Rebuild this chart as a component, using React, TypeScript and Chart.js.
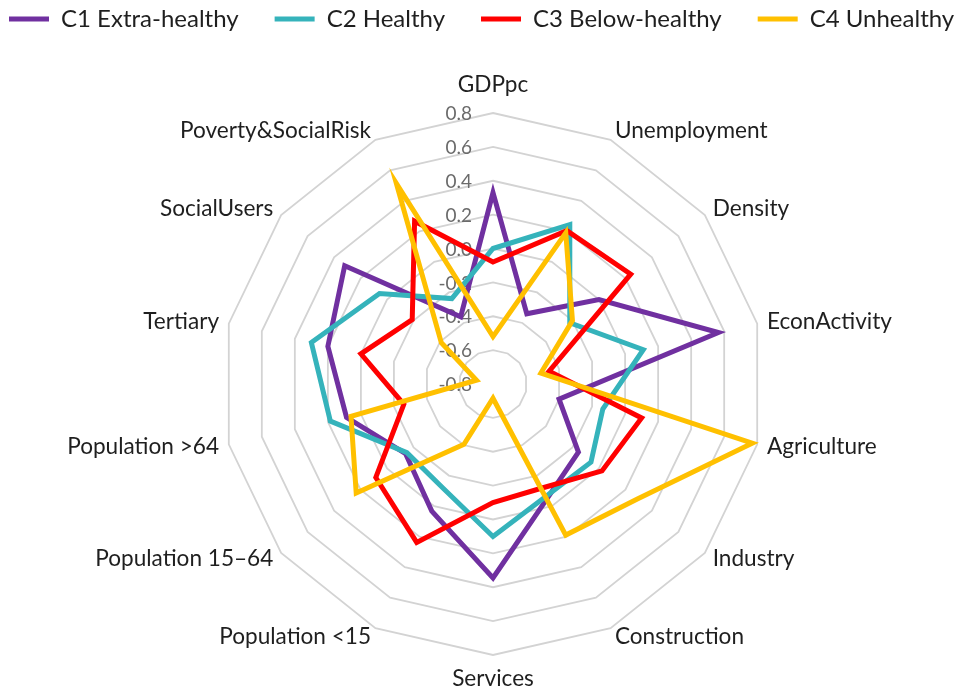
import React, { useEffect, useRef } from 'react';
import { Chart, registerables } from 'chart.js';

Chart.register(...registerables);

const categories = [
  'GDPpc',
  'Unemployment',
  'Density',
  'EconActivity',
  'Agriculture',
  'Industry',
  'Construction',
  'Services',
  'Population <15',
  'Population 15–64',
  'Population >64',
  'Tertiary',
  'SocialUsers',
  'Poverty&SocialRisk',
];

const seriesNames = ['C1 Extra-healthy', 'C2 Healthy', 'C3 Below-healthy', 'C4 Unhealthy'];
const seriesColors = ['#7030A0', '#35B3BB', '#FF0000', '#FFC000'];

const c1ExtraHealthy = [0.33, -0.34, 0.0, 0.565, -0.4, -0.155, -0.055, 0.345, 0.033, -0.14, 0.087, 0.2, 0.32, -0.36];
const c2Healthy = [0.0, 0.245, -0.22, 0.11, -0.135, -0.06, -0.068, 0.1, -0.118, -0.15, 0.185, 0.3, 0.057, -0.24];
const c3BelowHealthy = [-0.08, 0.205, 0.24, -0.46, 0.1, 0.023, -0.12, -0.1, 0.238, 0.085, -0.26, 0.0, -0.19, 0.267];
const c4Unhealthy = [-0.52, 0.19, -0.2, -0.51, 0.77, 0.29, 0.19, -0.716, -0.405, 0.233, 0.06, -0.7, -0.41, 0.515];

const seriesValues = [c1ExtraHealthy, c2Healthy, c3BelowHealthy, c4Unhealthy];

const axisMin = -0.8;
const axisMax = 0.8;
const axisStep = 0.2;

const FONT = 'Lato, "Open Sans", sans-serif';

function fmtTick(v: number): string {
  if (Math.abs(v) < 1e-9) return '0.0';
  return v.toFixed(1);
}

export default function App() {
  const ref = useRef<HTMLCanvasElement>(null);

  useEffect(() => {
    document.body.style.margin = '0';
    const canvas = ref.current;
    if (!canvas) return;

    const excelLabels = {
      id: 'excelLabels',
      beforeDatasetsDraw(chart: any) {
        const scale = chart.scales.r;
        const ctx = chart.ctx;
        ctx.save();
        // tick labels, to the left of the vertical axis
        ctx.font = `19px ${FONT}`;
        ctx.fillStyle = '#6b6b6b';
        ctx.textAlign = 'right';
        ctx.textBaseline = 'middle';
        scale.ticks.forEach((t: any) => {
          const d = scale.getDistanceFromCenterForValue(t.value);
          ctx.fillText(fmtTick(t.value), scale.xCenter - 21, scale.yCenter - d + 1);
        });
        // category labels
        ctx.font = `22.6px ${FONT}`;
        ctx.fillStyle = '#1f1f1f';
        const labels: string[] = chart.data.labels;
        const n = labels.length;
        labels.forEach((lab, i) => {
          const deg = (i * 360) / n;
          let dist = scale.drawingArea + 10;
          if (i === 0) dist = scale.drawingArea + 28;
          else if (Math.abs(deg - 180) < 0.01) dist = scale.drawingArea + 24;
          const p = scale.getPointPosition(i, dist);
          ctx.textAlign =
            i === 0 || Math.abs(deg - 180) < 0.01 ? 'center' : deg < 180 ? 'left' : 'right';
          ctx.textBaseline = 'middle';
          ctx.fillText(lab, p.x, p.y);
        });
        ctx.restore();
      },
    };

    const chart = new Chart(canvas, {
      type: 'radar',
      data: {
        labels: categories,
        datasets: seriesValues.map((vals, i) => ({
          label: seriesNames[i],
          data: vals,
          borderColor: seriesColors[i],
          backgroundColor: seriesColors[i],
          borderWidth: 5,
          borderJoinStyle: 'miter',
          borderCapStyle: 'round',
          fill: false,
          pointRadius: 0,
          pointHoverRadius: 0,
          tension: 0,
          order: seriesValues.length - i,
        })),
      },
      options: {
        responsive: false,
        animation: false,
        layout: { padding: { top: -29, left: -27, right: -45, bottom: 0 } },
        scales: {
          r: {
            min: axisMin,
            max: axisMax,
            ticks: { display: false, stepSize: axisStep },
            grid: { circular: false, color: '#d3d3d3', lineWidth: 1.8 },
            angleLines: { display: false },
            pointLabels: { display: false },
            afterFit: (s: any) => {
              s.xCenter = 493;
              s.yCenter = 384;
              s.drawingArea = 271;
            },
          },
        },
        plugins: {
          legend: {
            position: 'top',
            align: 'start',
            labels: {
              usePointStyle: true,
              pointStyle: 'line',
              pointStyleWidth: 40,
              padding: 36,
              color: '#1f1f1f',
              font: { family: FONT, size: 24 },
              sort: (a: any, b: any) => a.datasetIndex - b.datasetIndex,
            },
          },
          tooltip: { enabled: false },
        },
      } as any,
      plugins: [excelLabels],
    });

    return () => chart.destroy();
  }, []);

  return (
    <div style={{ width: 961, height: 690 }}>
      <canvas ref={ref} width={961} height={690} />
    </div>
  );
}
